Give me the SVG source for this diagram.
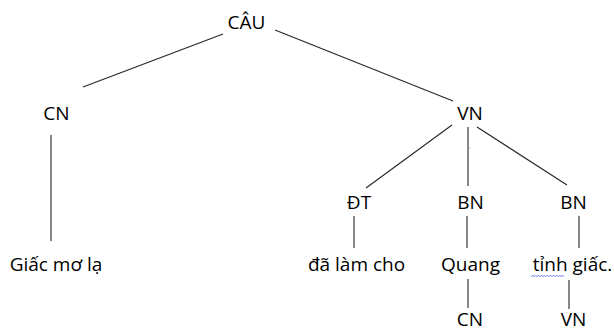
<svg xmlns="http://www.w3.org/2000/svg" width="614" height="331" viewBox="0 0 614 331">
<style>
text{font-family:"Open Sans","Noto Sans",sans-serif;font-size:19px;fill:#000;text-anchor:middle}
.c line{stroke:#262626;stroke-width:1.1}
</style>
<rect width="614" height="331" fill="#fff"/>
<g class="c" id="connectors">
<line x1="223" y1="34" x2="83" y2="87"/>
<line x1="275" y1="30" x2="453" y2="101"/>
<line x1="51" y1="135" x2="51" y2="241"/>
<line x1="452" y1="125" x2="366" y2="188"/>
<line x1="468" y1="127" x2="468" y2="186"/>
<line x1="477" y1="127" x2="567" y2="185"/>
<line x1="354" y1="216" x2="354" y2="248"/>
<line x1="467" y1="216" x2="467" y2="248"/>
<line x1="579" y1="216" x2="579" y2="248"/>
<line x1="468" y1="279" x2="468" y2="308"/>
<line x1="569" y1="280" x2="569" y2="309"/>
</g>
<rect x="469.5" y="147.5" width="1" height="1" fill="#999"/>
<g id="n-cau"><text x="246.5" y="29">CÂU</text></g>
<g id="n-cn1"><text x="56.5" y="120">CN</text></g>
<g id="n-vn1"><text x="470" y="120">VN</text></g>
<g id="n-dt"><text x="359" y="209">ĐT</text></g>
<g id="n-bn1"><text x="470.5" y="209">BN</text></g>
<g id="n-bn2"><text x="573.5" y="209">BN</text></g>
<g id="n-giacmola"><text x="56" y="271">Giấc mơ lạ</text></g>
<g id="n-dalamcho"><text x="356.5" y="271">đã làm cho</text></g>
<g id="n-quang"><text x="470.5" y="271">Quang</text></g>
<g id="n-tinhgiac"><text x="572.5" y="271">tỉnh giấc.</text>
<path d="M531,276.5 l1.5,-1 l1.5,1 l1.5,-1 l1.5,1 l1.5,-1 l1.5,1 l1.5,-1 l1.5,1 l1.5,-1 l1.5,1 l1.5,-1 l1.5,1 l1.5,-1 l1.5,1 l1.5,-1 l1.5,1 l1.5,-1 l1.5,1 l1.5,-1 l1.5,1 l1.5,-1 l1.5,1" fill="none" stroke="#4a5cf0" stroke-width="0.8"/></g>
<g id="n-cn2"><text x="470" y="325.5">CN</text></g>
<g id="n-vn2"><text x="573.5" y="325.5">VN</text></g>
</svg>
